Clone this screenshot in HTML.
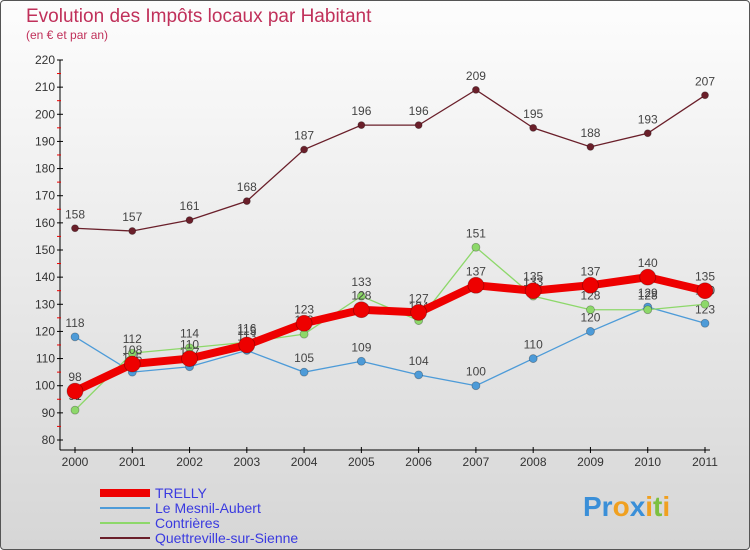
<!DOCTYPE html>
<html><head><meta charset="utf-8"><style>
body{margin:0;width:750px;height:550px;overflow:hidden;font-family:"Liberation Sans",sans-serif}
#wrap{position:absolute;left:0;top:0;width:748px;height:548px;border:1px solid #555;border-radius:4px;background:linear-gradient(#fdfdfd,#d6d6d6)}
</style></head><body>
<div id="wrap">
<svg id="chart" width="750" height="550" style="position:absolute;left:-1px;top:-1px">
<text x="26" y="22" font-size="19" fill="#c0305a">Evolution des Impôts locaux par Habitant</text>
<text x="26" y="39" font-size="12" fill="#c0305a">(en € et par an)</text>
<g id="axes"></g><g id="series"></g><g id="legend"></g>
<text x="583" y="516" font-size="28" font-weight="bold" fill="#3a8fd8">Pr<tspan fill="#f0a020">o</tspan><tspan fill="#3a8fd8">x</tspan><tspan fill="#f0a020">i</tspan><tspan fill="#7cc040">t</tspan><tspan fill="#f0a020">i</tspan></text>
</svg>
</div>
<script>
const years=["2000","2001","2002","2003","2004","2005","2006","2007","2008","2009","2010","2011"];
const yTicks=[80,90,100,110,120,130,140,150,160,170,180,190,200,210,220];
const quettreville=[158,157,161,168,187,196,196,209,195,188,193,207];
const mesnil=[118,105,107,113,105,109,104,100,110,120,129,123];
const contrieres=[91,112,114,116,119,133,124,151,133,128,128,130];
const trelly=[98,108,110,115,123,128,127,137,135,137,140,135];
const NS="http://www.w3.org/2000/svg";
function X(i){return 75+i*(630/11);}
function Y(v){return 440-(v-80)*(380/140);}
function mk(t,a,p){const e=document.createElementNS(NS,t);for(const k in a)e.setAttribute(k,a[k]);p.appendChild(e);return e;}
const ax=document.getElementById('axes');
let l=mk('line',{x1:60,y1:60,x2:60,y2:450,stroke:'#000'},ax);


l=mk('line',{x1:60,y1:450,x2:710,y2:450,stroke:'#000'},ax);


yTicks.forEach((v,i)=>{const y=Y(v);mk('line',{x1:57,y1:y,x2:63,y2:y,stroke:'#000'},ax);
if(i<yTicks.length-1)mk('line',{x1:57,y1:y-13.6,x2:61,y2:y-13.6,stroke:'#e00'},ax);
const t=mk('text',{x:55,y:y+4,'font-size':12,fill:'#333','text-anchor':'end'},ax);t.textContent=v;

});
years.forEach((yr,i)=>{const x=X(i);mk('line',{x1:x,y1:447,x2:x,y2:453,stroke:'#000'},ax);
const t=mk('text',{x:x,y:466,'font-size':12,fill:'#333','text-anchor':'middle'},ax);t.textContent=yr;

});
const sg=document.getElementById('series');
const S=[
{n:'quettreville-sur-sienne',d:quettreville,c:'#6a1f2a',w:1.3,r:3.5,lbl:'Quettreville-sur-Sienne'},
{n:'le-mesnil-aubert',d:mesnil,c:'#4d9bd8',w:1.3,r:4,lbl:'Le Mesnil-Aubert'},
{n:'contrieres',d:contrieres,c:'#8dd86a',w:1.3,r:4,lbl:'Contrières'},
{n:'trelly',d:trelly,c:'#ee0000',w:8,r:8,lbl:'TRELLY'}];
S.forEach(s=>{const g=mk('g',{},sg);


const p=mk('polyline',{points:s.d.map((v,i)=>X(i)+','+Y(v)).join(' '),fill:'none',stroke:s.c,'stroke-width':s.w},g);


s.d.forEach((v,i)=>{const c=mk('circle',{cx:X(i),cy:Y(v),r:s.r,fill:s.c,stroke:'rgba(0,0,0,0.3)','stroke-width':0.8},g);


const t=mk('text',{x:X(i),y:Y(v)-10,'font-size':12,fill:'#444','text-anchor':'middle'},g);t.textContent=v;

});});
const lg=document.getElementById('legend');
[S[3],S[1],S[2],S[0]].forEach((s,i)=>{const y=493+i*15;const g=mk('g',{},lg);


mk('line',{x1:100,y1:y,x2:150,y2:y,stroke:s.c,'stroke-width':s.w===8?8:2},g);
const t=mk('text',{x:155,y:y+5,'font-size':14,fill:'#3a3ae0'},g);t.textContent=s.lbl;

});
</script>
</body></html>
